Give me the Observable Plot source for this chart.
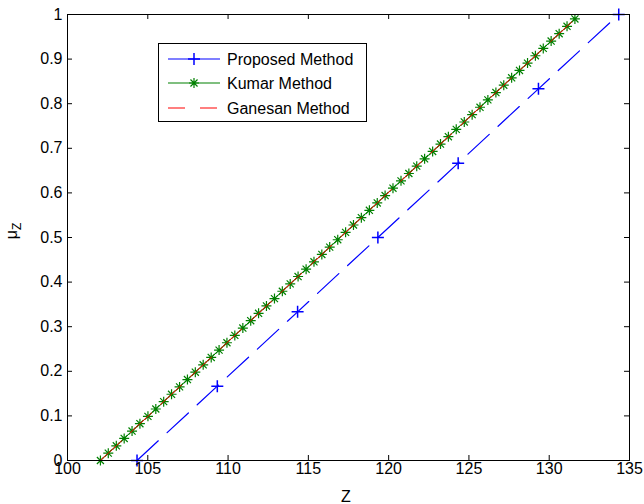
<!DOCTYPE html>
<html>
<head>
<meta charset="utf-8">
<script src="https://cdn.jsdelivr.net/npm/d3@7"></script>
<script src="https://cdn.jsdelivr.net/npm/@observablehq/plot@0.6"></script>
<style>
  html, body { margin: 0; padding: 0; background: #fff; }
  #chart { width: 644px; height: 504px; overflow: hidden; }
</style>
</head>
<body>
<div id="chart"></div>
<script>
// ---- Data ----
const proposedX = [104.33, 109.33, 114.33, 119.33, 124.33, 129.33, 134.33];
const proposedY = [0, 0.1667, 0.3333, 0.5, 0.6667, 0.8333, 1];

const kumarX = [102.05, 102.54, 103.04, 103.53, 104.02, 104.51, 105.01, 105.50, 105.99, 106.48,
  106.98, 107.47, 107.96, 108.45, 108.95, 109.44, 109.93, 110.42, 110.92, 111.41,
  111.90, 112.39, 112.89, 113.38, 113.87, 114.36, 114.86, 115.35, 115.84, 116.33,
  116.83, 117.32, 117.81, 118.30, 118.80, 119.29, 119.78, 120.27, 120.77, 121.26,
  121.75, 122.24, 122.74, 123.23, 123.72, 124.21, 124.71, 125.20, 125.69, 126.18,
  126.68, 127.17, 127.66, 128.15, 128.65, 129.14, 129.63, 130.12, 130.62, 131.11, 131.60];
const kumarY = [0, 0.0165, 0.033, 0.0495, 0.066, 0.0825, 0.099, 0.1155, 0.132, 0.1485,
  0.165, 0.1815, 0.198, 0.2145, 0.231, 0.2475, 0.264, 0.2805, 0.297, 0.3135,
  0.33, 0.3465, 0.363, 0.3795, 0.396, 0.4125, 0.429, 0.4455, 0.462, 0.4785,
  0.495, 0.5115, 0.528, 0.5445, 0.561, 0.5775, 0.594, 0.6105, 0.627, 0.6435,
  0.66, 0.6765, 0.693, 0.7095, 0.726, 0.7425, 0.759, 0.7755, 0.792, 0.8085,
  0.825, 0.8415, 0.858, 0.8745, 0.891, 0.9075, 0.924, 0.9405, 0.957, 0.9735, 0.99];

const ganesanX = kumarX.slice();
const ganesanY = kumarY.slice();

const seriesNames = ["Proposed Method", "Kumar Method", "Ganesan Method"];

const xTicks = [100, 105, 110, 115, 120, 125, 130, 135];
const xTickLabels = ["100", "105", "110", "115", "120", "125", "130", "135"];
const yTicks = [0, 0.1, 0.2, 0.3, 0.4, 0.5, 0.6, 0.7, 0.8, 0.9, 1];
const yTickLabels = ["0", "0.1", "0.2", "0.3", "0.4", "0.5", "0.6", "0.7", "0.8", "0.9", "1"];

// ---- Build tables ----
const proposed = proposedX.map((x, i) => ({x, y: proposedY[i]}));
const kumar = kumarX.map((x, i) => ({x, y: kumarY[i]}));
const ganesan = ganesanX.map((x, i) => ({x, y: ganesanY[i]}));

// ---- Layout ----
const W = 644, H = 504;
const mL = 67, mR = 15, mT = 14, mB = 44;
const plotW = W - mL - mR, plotH = H - mT - mB;
const tick = 5;
const FONT = "'Liberation Sans', Arial, sans-serif";

const BLUE = "#0000ff", GREEN = "#008000", RED = "#ff0000";

// MATLAB-like marker symbols (stroke only)
const starSymbol = {
  draw(ctx, size) {
    const r = Math.sqrt(size / Math.PI), d = r * Math.SQRT1_2;
    ctx.moveTo(-r, 0); ctx.lineTo(r, 0);
    ctx.moveTo(0, -r); ctx.lineTo(0, r);
    ctx.moveTo(-d, -d); ctx.lineTo(d, d);
    ctx.moveTo(-d, d); ctx.lineTo(d, -d);
  }
};
const plusSymbol = {
  draw(ctx, size) {
    const r = Math.sqrt(size / Math.PI);
    ctx.moveTo(-r, 0); ctx.lineTo(r, 0);
    ctx.moveTo(0, -r); ctx.lineTo(0, r);
  }
};

const chart = Plot.plot({
  width: W, height: H,
  marginLeft: mL, marginRight: mR, marginTop: mT, marginBottom: mB,
  style: {fontFamily: FONT, fontSize: "16px", background: "white", color: "#000", overflow: "visible"},
  x: {domain: [100, 135], label: null},
  y: {domain: [0, 1], label: null},
  marks: [
    // Proposed (blue dashed with + markers)
    Plot.line(proposed, {x: "x", y: "y", stroke: BLUE, strokeWidth: 1.2, strokeDasharray: "29,12"}),
    Plot.dot(proposed, {x: "x", y: "y", symbol: plusSymbol, r: 6, stroke: BLUE, fill: "none", strokeWidth: 1.5}),
    // Kumar (green solid with * markers)
    Plot.line(kumar, {x: "x", y: "y", stroke: GREEN, strokeWidth: 1}),
    Plot.dot(kumar, {x: "x", y: "y", symbol: starSymbol, r: 5, stroke: GREEN, fill: "none", strokeWidth: 1.2}),
    // Ganesan (red dashed)
    Plot.line(ganesan, {x: "x", y: "y", stroke: RED, strokeWidth: 1, strokeDasharray: "29,12"}),
    // Frame and inward ticks on all four sides
    Plot.frame({stroke: "#000", strokeWidth: 1}),
    Plot.ruleX(xTicks, {stroke: "#000", insetTop: plotH - tick}),
    Plot.ruleX(xTicks, {stroke: "#000", insetBottom: plotH - tick}),
    Plot.ruleY(yTicks, {stroke: "#000", insetRight: plotW - tick}),
    Plot.ruleY(yTicks, {stroke: "#000", insetLeft: plotW - tick}),
    // Tick labels
    Plot.axisX(xTicks, {tickSize: 0, tickPadding: 2, label: null, fontSize: 16,
      tickFormat: d => xTickLabels[xTicks.indexOf(d)]}),
    Plot.axisY(yTicks, {tickSize: 0, tickPadding: 5, label: null, fontSize: 16,
      tickFormat: d => yTickLabels[yTicks.indexOf(d)]})
  ]
});

document.getElementById("chart").appendChild(chart);

// ---- Axis titles & legend (decorations) ----
const svg = d3.select(chart);

svg.append("text")
  .attr("x", 346).attr("y", 502)
  .attr("text-anchor", "middle")
  .attr("font-family", FONT).attr("font-size", 16).attr("fill", "#000")
  .text("Z");

const yl = svg.append("text")
  .attr("transform", "translate(17,231) rotate(-90)")
  .attr("text-anchor", "middle")
  .attr("font-family", FONT).attr("font-size", 16).attr("fill", "#000");
yl.append("tspan").text("μ");
yl.append("tspan").attr("font-size", 12).attr("dy", 4).text("Z");

const lg = svg.append("g").attr("text-anchor", "start");
lg.append("rect")
  .attr("x", 158.5).attr("y", 43.5).attr("width", 208).attr("height", 78)
  .attr("fill", "white").attr("stroke", "#000").attr("stroke-width", 1);

const rows = [
  {name: seriesNames[0], color: BLUE, dash: null, sym: plusSymbol, r: 6, sw: 1.5, y: 59},
  {name: seriesNames[1], color: GREEN, dash: null, sym: starSymbol, r: 5, sw: 1.2, y: 83},
  {name: seriesNames[2], color: RED, dash: "17,15", sym: null, y: 108}
];
rows.forEach(row => {
  lg.append("line")
    .attr("x1", 168).attr("x2", 220).attr("y1", row.y).attr("y2", row.y)
    .attr("stroke", row.color).attr("stroke-width", 1.2)
    .attr("stroke-dasharray", row.dash);
  if (row.sym) {
    lg.append("path")
      .attr("transform", `translate(194,${row.y})`)
      .attr("d", d3.symbol(row.sym, row.r * row.r * Math.PI)())
      .attr("fill", "none").attr("stroke", row.color).attr("stroke-width", row.sw);
  }
  lg.append("text")
    .attr("x", 227).attr("y", row.y).attr("dy", "0.35em")
    .attr("text-anchor", "start")
    .attr("font-family", FONT).attr("font-size", 16).attr("fill", "#000")
    .text(row.name);
});
</script>
</body>
</html>
